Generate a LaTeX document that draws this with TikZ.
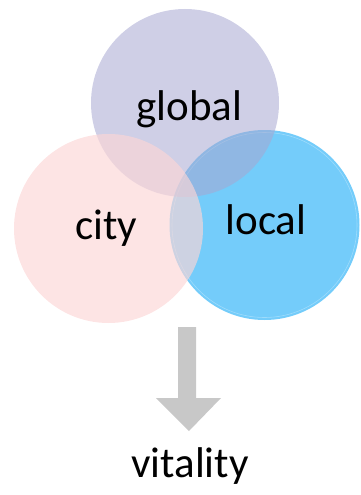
\documentclass[tikz,border=0pt]{standalone}
\usepackage{fontspec}
\setmainfont{Carlito}
\definecolor{globalc}{RGB}{167,167,209}
\definecolor{cityc}{RGB}{252,214,214}
\definecolor{localc}{RGB}{116,204,250}
\definecolor{arrowc}{RGB}{200,200,200}
\begin{document}
\begin{tikzpicture}[x=1pt,y=-1pt,
  disc/.style={circle,inner sep=0pt,draw=none},
  lbl/.style={anchor=base,inner sep=0pt,font=\fontsize{43}{50}\selectfont}]
\useasboundingbox (0,0) rectangle (360,495);
\node[disc,minimum size=190pt,fill=localc] (local) at (264.5,225) {};
\draw[white,opacity=0.3,line width=0.6pt] (local.center) circle[radius=92.5];
\node[disc,minimum size=188pt,fill=globalc,fill opacity=0.55] (global) at (185,103) {};
\node[disc,minimum size=189pt,fill=cityc,fill opacity=0.655] (city) at (108.5,228.5) {};
\node[lbl] (tglobal) at (189.5,120) {global};
\node[lbl] (tcity) at (106.5,239) {city};
\node[lbl] (tlocal) at (266,234) {local};
\node[lbl] (tvital) at (190,477) {vitality};
\fill[arrowc] (178,327) -- (196,327) -- (196,398) -- (221,398) -- (189,431) -- (156,398) -- (178,398) -- cycle;
\end{tikzpicture}
\end{document}
